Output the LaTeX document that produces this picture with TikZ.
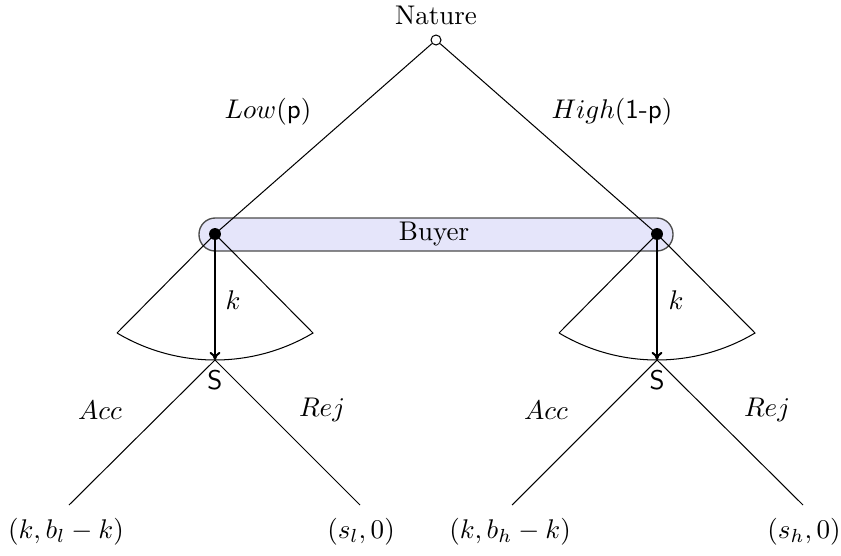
\documentclass[tikz,border=0pt]{standalone}
\usetikzlibrary{arrows.meta}
\definecolor{infofill}{RGB}{229,229,250}
\tikzset{
  edge/.style={draw=black, line width=0.38pt},
  move/.style={draw=black, line width=0.75pt, -{To[length=3pt,width=4pt]}},
  decdot/.style={circle, fill=black, inner sep=0pt, minimum size=4.4pt},
  chance/.style={circle, draw=black, fill=white, inner sep=0pt, minimum size=3.7pt, line width=0.38pt},
  lbl/.style={inner sep=1pt},
  infoset/.style={draw=black!70, line width=0.5pt, fill=infofill, rounded corners=6pt},
}
\begin{document}
\begin{tikzpicture}[x=0.37pt,y=-0.37pt]
\useasboundingbox (0,0) rectangle (841,555);
% information set
\path[infoset] (199,218) rectangle (673,251);
\node[lbl] (buyer) at (434,234) {Buyer};
% nature
\node[chance] (nat) at (436,40) {};
\node[lbl] (natl) at (436,15) {Nature};
% buyer nodes
\coordinate (b1) at (215,234);
\coordinate (b2) at (657,234);
\coordinate (s1) at (215,360);
\coordinate (s2) at (657,360);
% sectors
\coordinate (c1l) at (117,333);
\coordinate (c1r) at (313,333);
\coordinate (c2l) at (559,333);
\coordinate (c2r) at (755,333);
\draw[edge] (c1l) -- (b1) -- (c1r) arc[start angle=-59.2, end angle=-120.8, radius=70.8pt];
\draw[edge] (c2l) -- (b2) -- (c2r) arc[start angle=-59.2, end angle=-120.8, radius=70.8pt];
% nature edges
\draw[edge] (nat) -- (b1);
\draw[edge] (nat) -- (b2);
\node[lbl] (lowl) at (268,112) {$Low$(\textsf{p})};
\node[lbl] (highl) at (612,112) {$High$(\textsf{1-p})};
% dots
\node[decdot] (d1) at (b1) {};
\node[decdot] (d2) at (b2) {};
% offers
\draw[move] (d1.center) -- (s1);
\draw[move] (d2.center) -- (s2);
\node[lbl] (k1) at (233,300) {$k$};
\node[lbl] (k2) at (676,300) {$k$};
\node[lbl] (sl1) at (215,380) {\textsf{S}};
\node[lbl] (sl2) at (657,380) {\textsf{S}};
% leaves
\coordinate (l1) at (69,505);
\coordinate (l2) at (360,505);
\coordinate (l3) at (512,505);
\coordinate (l4) at (803,505);
\draw[edge] (s1) -- (l1);
\draw[edge] (s1) -- (l2);
\draw[edge] (s2) -- (l3);
\draw[edge] (s2) -- (l4);
\node[lbl] (a1) at (100,410) {$Acc$};
\node[lbl] (r1) at (322,410) {$Rej$};
\node[lbl] (a2) at (546,410) {$Acc$};
\node[lbl] (r2) at (767,410) {$Rej$};
\node[lbl] (p1) at (66,532) {$(k,b_l-k)$};
\node[lbl] (p2) at (361,532) {$(s_l,0)$};
\node[lbl] (p3) at (510,532) {$(k,b_h-k)$};
\node[lbl] (p4) at (804,532) {$(s_h,0)$};
\end{tikzpicture}
\end{document}
